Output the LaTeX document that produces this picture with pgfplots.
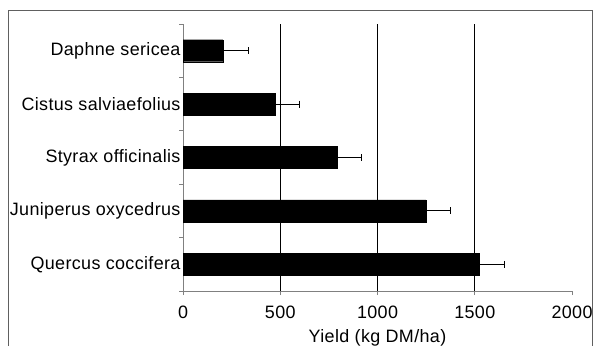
\documentclass[border=0pt]{standalone}
\usepackage{fontspec}
\setmainfont{Liberation Sans}[LetterSpace=2]
\usepackage{pgfplots}
\pgfplotsset{compat=1.18}
\definecolor{axgray}{RGB}{128,128,128}
\definecolor{framegray}{RGB}{96,96,96}
\begin{document}
\begin{tikzpicture}[x=1bp,y=1bp]
\useasboundingbox (0,0) rectangle (593,346);
\draw[framegray, line width=1bp] (8,0) -- (8,335) -- (592,335) -- (592,0);
\begin{axis}[
  at={(183bp,55bp)}, anchor=south west,
  scale only axis, width=389bp, height=267bp,
  xbar, bar width=22bp,
  xmin=0, xmax=2000, ymin=0.5, ymax=5.5,
  axis lines=left, axis line style={axgray, line width=0.8bp, -},
  xtick={0,500,1000,1500,2000},
  ytick={1,2,3,4,5},
  yticklabels={Quercus coccifera, Juniperus oxycedrus, Styrax officinalis, Cistus salviaefolius, Daphne sericea},
  minor ytick={0.5,1.5,2.5,3.5,4.5,5.5},
  major tick length=4bp, minor tick length=4bp,
  tick style={axgray, line width=0.8bp},
  major y tick style={draw=none},
  minor y tick style={axgray, line width=0.8bp},
  tick align=outside,
  extra x ticks={500,1000,1500},
  extra x tick labels={},
  extra x tick style={grid=major, major grid style={black, line width=0.8bp}, major tick length=0pt},
  /pgf/number format/assume math mode=true,
  /pgf/number format/1000 sep={},
  tick label style={font=\fontsize{18}{21}\selectfont, black},
  yticklabel style={xshift=5bp},
  xticklabel style={yshift=-7bp},
  xlabel={Yield (kg DM/ha)},
  xlabel style={font=\fontsize{18}{21}\selectfont, yshift=0bp},
  clip=false,
]
\addplot[fill=black, draw=black,
  error bars/.cd, x dir=plus, x explicit,
  error bar style={black, line width=0.9bp},
  error mark options={rotate=90, mark size=3.5bp, line width=0.9bp}]
  table[x=v, y=c, x error=e] {
c v e
1 1521 134
2 1249 128
3 791 124
4 473 128
5 205 129
};
\end{axis}
\end{tikzpicture}
\end{document}
